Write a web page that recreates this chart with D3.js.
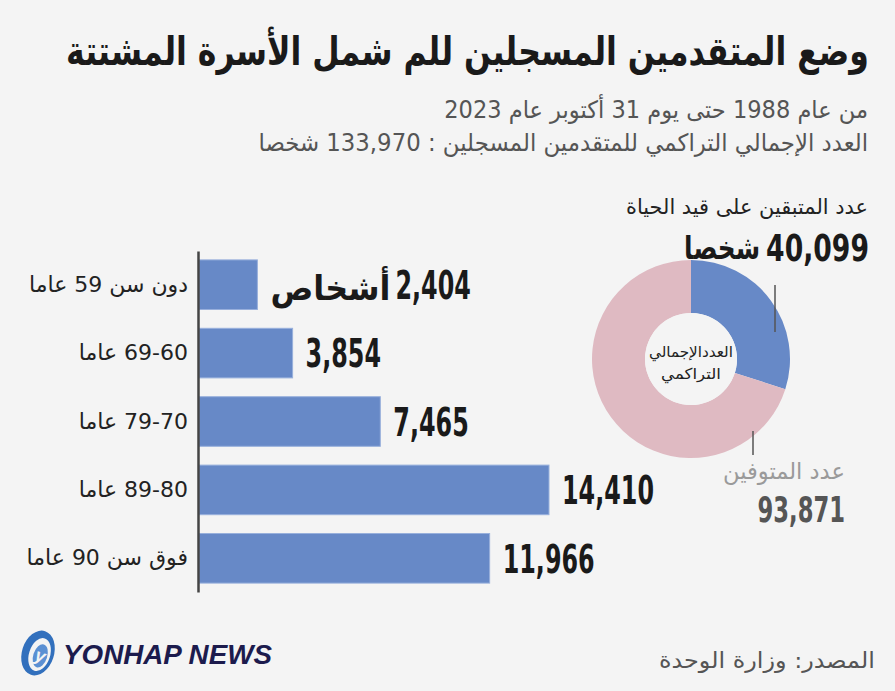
<!DOCTYPE html>
<html><head><meta charset="utf-8">
<script src="https://cdn.jsdelivr.net/npm/d3@7"></script>
<style>
html,body{margin:0;padding:0;background:#f4f4f4;}
svg{display:block;}
.ar{font-family:'DejaVu Sans',sans-serif;}
.num{font-family:'DejaVu Sans',sans-serif;font-stretch:condensed;font-weight:bold;}
</style></head><body>
<svg id="chart" width="895" height="691"></svg>
<script>
// ---- data ----
const titleText = "وضع المتقدمين المسجلين للم شمل الأسرة المشتتة";
const subtitleLines = [
  "من عام 1988 حتى يوم 31 أكتوبر عام 2023",
  "العدد الإجمالي التراكمي للمتقدمين المسجلين : 133,970 شخصا"
];
const categories = ["دون سن 59 عاما", "69-60 عاما", "79-70 عاما", "89-80 عاما", "فوق سن 90 عاما"];
const values = [2404, 3854, 7465, 14410, 11966];
const firstUnit = "أشخاص";
const donutNames = ["عدد المتبقين على قيد الحياة", "عدد المتوفين"];
const donutValues = [40099, 93871];
const donutUnit = "شخصا";
const centerLines = ["العددالإجمالي", "التراكمي"];
const sourceText = "المصدر: وزارة الوحدة";
const logoText = "YONHAP NEWS";

const fmt = d3.format(",");
const svg = d3.select("#chart");
svg.append("rect").attr("width", 895).attr("height", 691).attr("fill", "#f4f4f4");

// draws a text inside a group, scaled horizontally to a width (or by a factor),
// aligned by its left or right edge; returns its final left and width
function fitText(parent, str, o) {
  const g = parent.append("g");
  const t = g.append("text").attr("x", 0).attr("y", 0).text(str);
  if (o.cls) t.attr("class", o.cls);
  if (o.rtl) t.attr("direction", "rtl");
  t.attr("font-size", o.size).attr("fill", o.fill || "#1a1a1a");
  if (o.weight) t.attr("font-weight", o.weight);
  if (o.family) t.attr("font-family", o.family);
  if (o.style) t.attr("font-style", o.style);
  const b = t.node().getBBox();
  const s = o.width ? o.width / b.width : (o.scale || 1);
  const w = b.width * s;
  const left = (o.right != null) ? o.right - w : (o.center != null ? o.center - w / 2 : o.left);
  g.attr("transform", `translate(${left - b.x * s},${o.y}) scale(${s},1)`);
  return { left, width: w };
}

// ---- title ----
fitText(svg, titleText, { cls: "ar", size: 40, weight: "bold", fill: "#1a1a1a", width: 803, right: 869, y: 65 });
const subY = [118, 151];
const subW = [424, 610];
subtitleLines.forEach((s, i) => {
  fitText(svg, s, { cls: "ar", rtl: true, size: 24, fill: "#555", width: subW[i], right: 868, y: subY[i] });
});

// ---- bars ----
const x = d3.scaleLinear().domain([0, d3.max(values)]).range([199, 549]);
const y = d3.scaleBand().domain(categories).range([251, 592]).paddingInner(0.275).paddingOuter(0.13);

svg.append("g").selectAll("rect").data(values).join("rect")
  .attr("x", x(0))
  .attr("y", (d, i) => y(categories[i]))
  .attr("width", d => x(d) - x(0))
  .attr("height", y.bandwidth())
  .attr("fill", "#6789c7")
  .attr("stroke", "#98b0dc").attr("stroke-width", 1);

const axisG = svg.append("g").attr("transform", "translate(198,0)")
  .call(d3.axisLeft(y).tickSize(0).tickSizeOuter(0).tickPadding(10));
axisG.select(".domain").attr("stroke", "#444").attr("stroke-width", 2.5);
axisG.selectAll(".tick text").attr("class", "ar").attr("font-size", 22).attr("fill", "#222")
  .attr("direction", "rtl").attr("dy", null).attr("y", 7)
  .each(function() {
    const t = d3.select(this).attr("x", 0);
    const b = t.node().getBBox();
    t.attr("x", -10 - (b.x + b.width));
  });

// value labels
const numSize = 39, numScale = 0.68;
values.forEach((v, i) => {
  const cy = y(categories[i]) + y.bandwidth() / 2;
  const x0 = x(v) + 13;
  const by = cy + numSize * 0.365;
  let left = x0;
  if (i === 0) {
    const u = fitText(svg, firstUnit, { cls: "ar", size: 34, weight: "bold", width: 120, left: x0, y: by + 1 });
    left = u.left + u.width + 5;
  }
  fitText(svg, fmt(v), { cls: "num", size: numSize, scale: numScale, left, y: by });
});

// ---- donut ----
const cx = 691, cyD = 359;
const pie = d3.pie().sort(null).value(d => d)(donutValues);
const arc = d3.arc().innerRadius(46).outerRadius(99);
const donutColors = ["#6789c7", "#dfbac2"];
const dg = svg.append("g").attr("transform", `translate(${cx},${cyD})`);
dg.selectAll("path").data(pie).join("path").attr("d", arc).attr("fill", (d, i) => donutColors[i]);
dg.append("circle").attr("r", 46).attr("fill", "#f4f4f4");
centerLines.forEach((s, i) => {
  fitText(dg, s, { cls: "ar", size: 15, fill: "#222", width: i === 0 ? 84 : 60, center: 0, y: -2 + i * 22 });
});
// leader lines
dg.append("line").attr("x1", 84).attr("x2", 84).attr("y1", -74).attr("y2", -27)
  .attr("stroke", "#555").attr("stroke-width", 1.5);
dg.append("line").attr("x1", 62).attr("x2", 62).attr("y1", 72).attr("y2", 96)
  .attr("stroke", "#555").attr("stroke-width", 1.5);

// donut labels
const donutNumScale = 0.78;
fitText(svg, donutNames[0], { cls: "ar", size: 21, fill: "#222", width: 242, right: 868, y: 214 });
const n1 = fitText(svg, fmt(donutValues[0]), { cls: "num", size: 38, scale: donutNumScale, right: 869, y: 261 });
fitText(svg, donutUnit, { cls: "ar", size: 32, weight: "bold", width: 76, right: n1.left - 6, y: 259 });

fitText(svg, donutNames[1], { cls: "ar", size: 23, fill: "#9a9a9a", width: 122, right: 845, y: 479 });
fitText(svg, fmt(donutValues[1]), { cls: "num", size: 36, scale: 0.7, fill: "#555", right: 845, y: 522 });

// ---- footer ----
fitText(svg, sourceText, { cls: "ar", size: 22, fill: "#555", width: 216, right: 875, y: 668 });

const lg = svg.append("g").attr("transform", "translate(38,653) rotate(18)");
lg.append("ellipse").attr("rx", 16).attr("ry", 23).attr("fill", "#3270bd");
lg.append("ellipse").attr("cx", 2).attr("cy", 1).attr("rx", 10.5).attr("ry", 17).attr("fill", "#f4f4f4");
lg.append("ellipse").attr("cx", 3).attr("cy", 2).attr("rx", 7).attr("ry", 12).attr("fill", "#5b90d3");
lg.append("text").attr("x", 3).attr("y", 8).attr("text-anchor", "middle")
  .attr("font-family", "'Liberation Sans','DejaVu Sans',sans-serif").attr("font-style", "italic")
  .attr("font-weight", "bold").attr("font-size", 18).attr("fill", "#f4f4f4").text("y");
fitText(svg, logoText, { family: "'Liberation Sans','DejaVu Sans',sans-serif", weight: "bold", style: "italic",
  size: 27, fill: "#1c1b4d", width: 209, left: 63, y: 664 });
</script>
</body></html>
